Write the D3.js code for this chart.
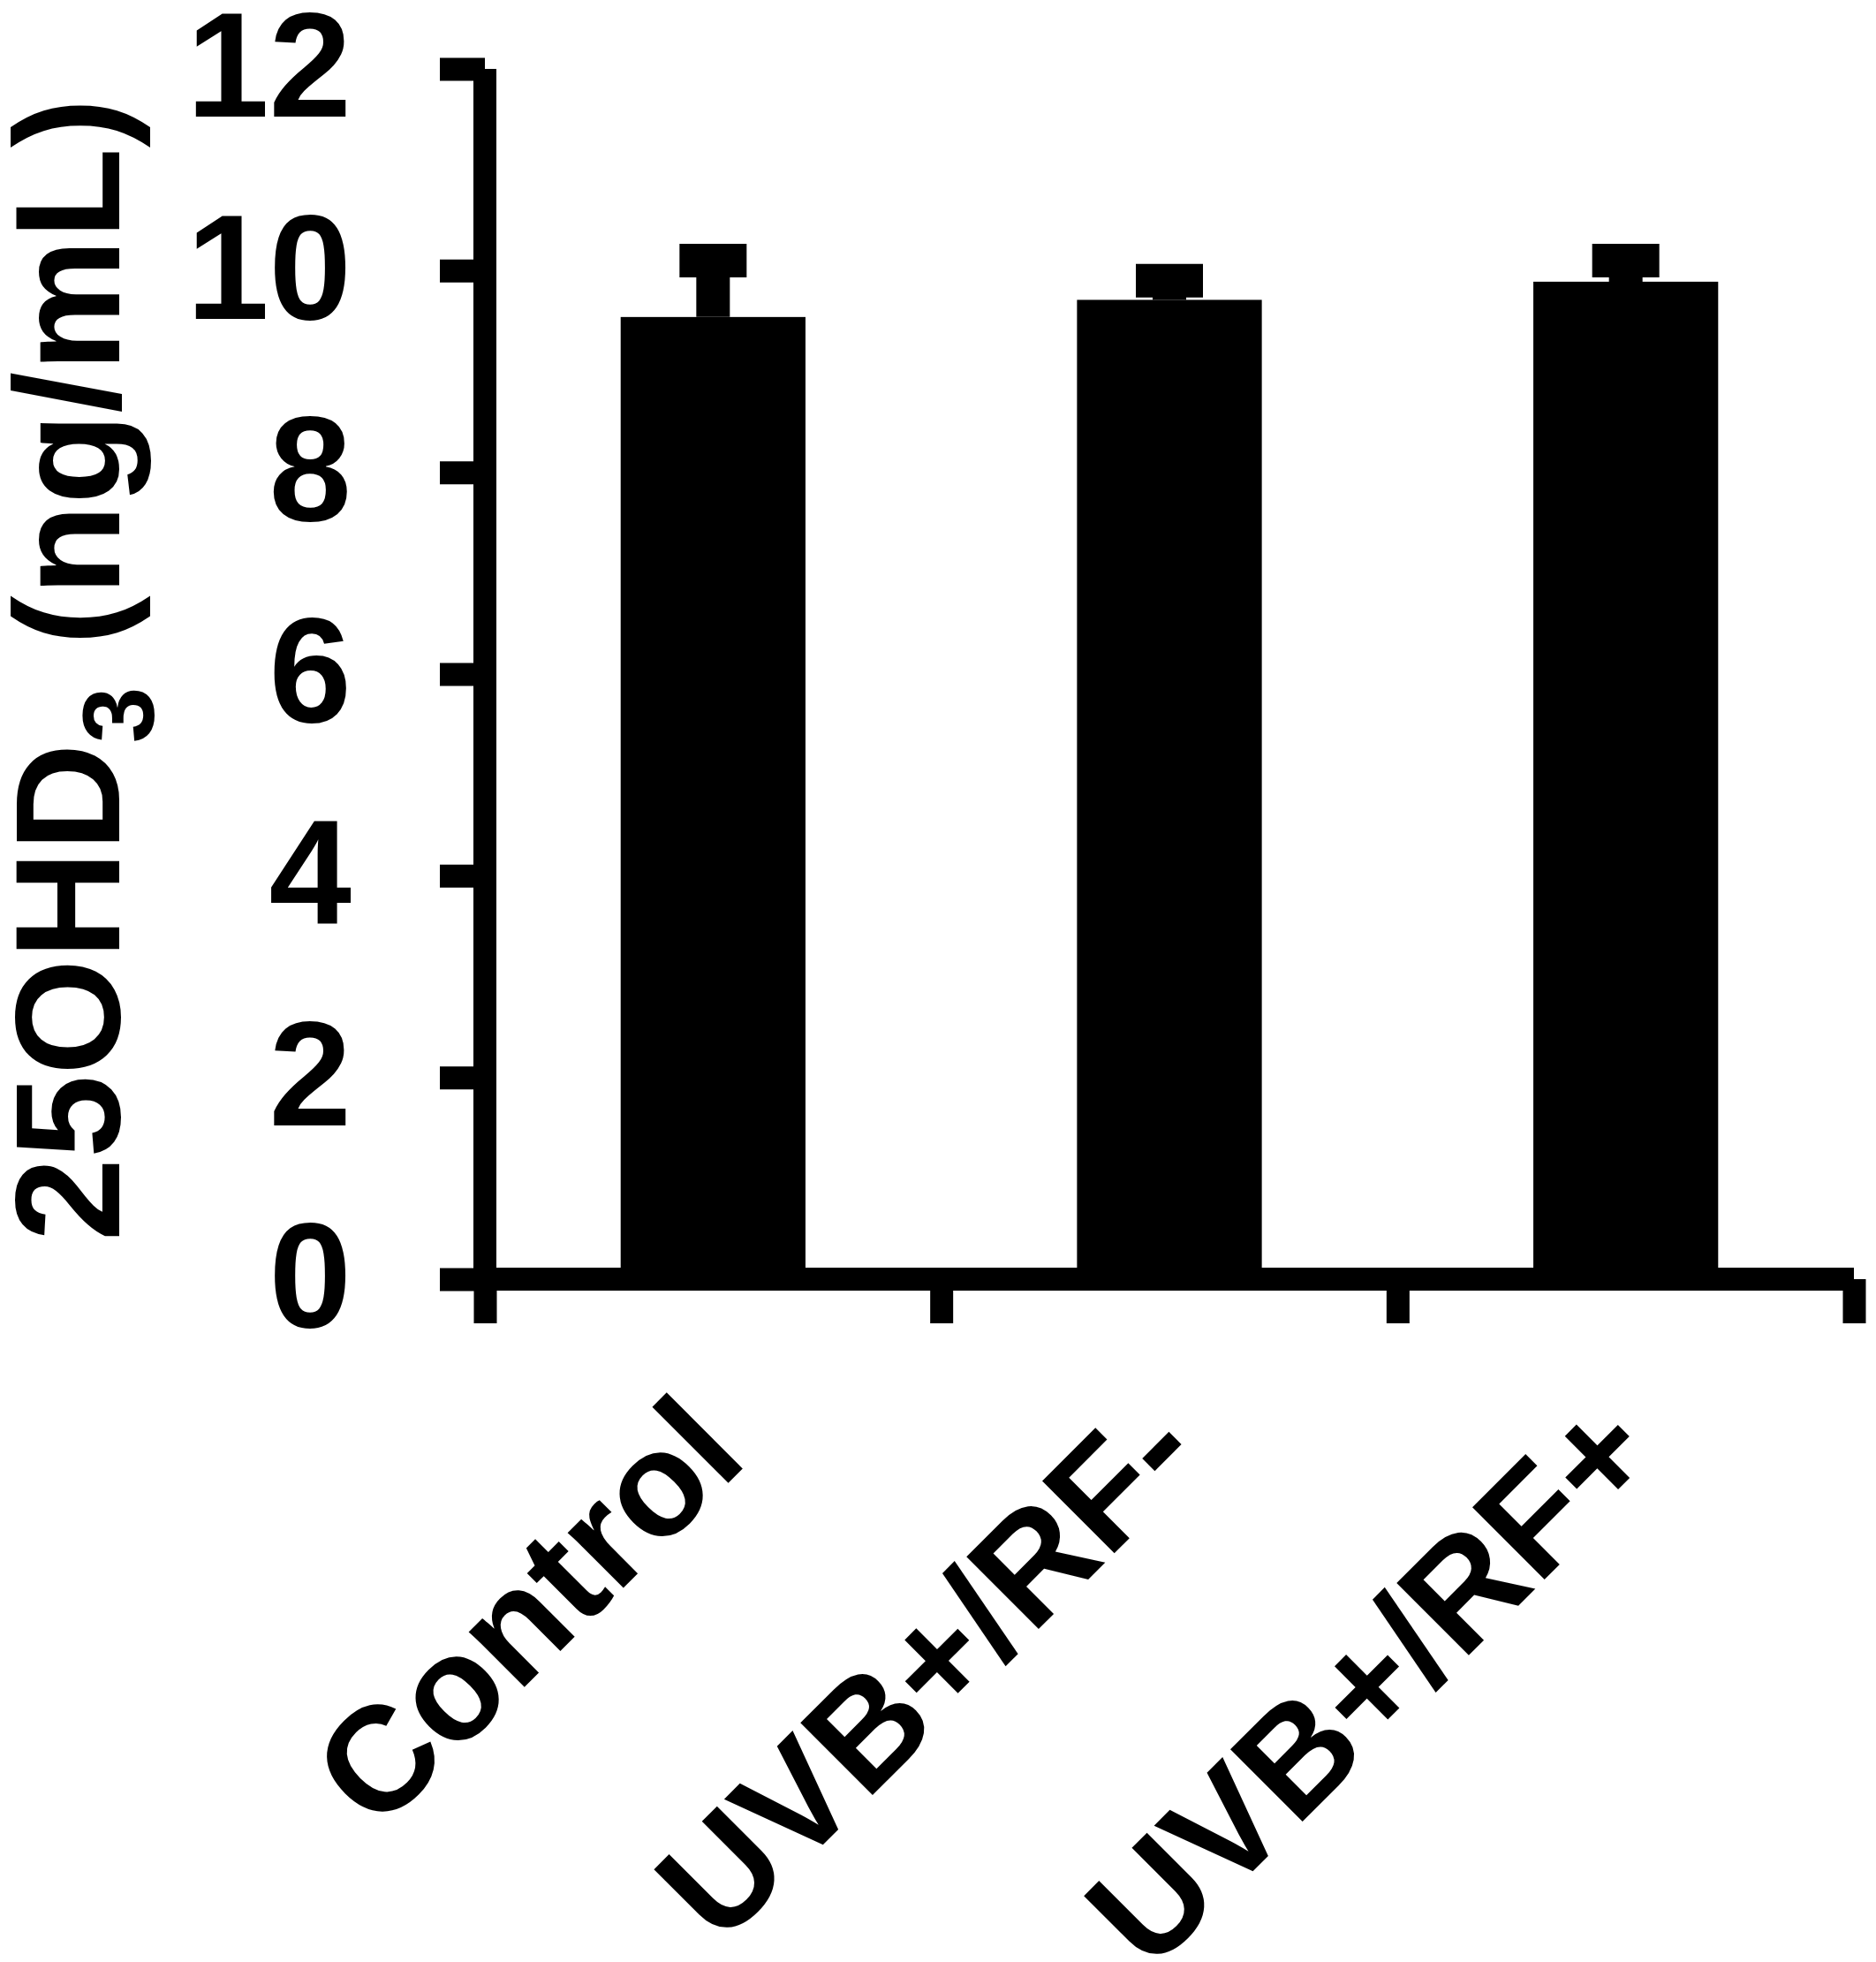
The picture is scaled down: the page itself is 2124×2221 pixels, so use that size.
<!DOCTYPE html>
<html>
<head>
<meta charset="utf-8">
<script src="https://cdn.jsdelivr.net/npm/d3@7"></script>
<style>
  body { margin: 0; background: #fff; }
  text { font-family: "Liberation Sans", Arial, sans-serif; font-weight: bold; fill: #000; }
</style>
</head>
<body>
<svg id="chart" width="2124" height="2221"></svg>
<script>
// values
const categories = ['Control', 'UVB+/RF-', 'UVB+/RF+'];
const means = [9.54, 9.71, 9.89];
const sems = [0.56, 0.19, 0.21];
const yTicks = [0, 2, 4, 6, 8, 10, 12];

const width = 2124;
const height = 2221;
const plot = { left: 549, right: 2099, top: 78, bottom: 1448 };
const lineW = 26;
const errW = 38;
const fontSize = 168;

const svg = d3.select('#chart');

svg.append('rect')
  .attr('width', width)
  .attr('height', height)
  .attr('fill', '#fff');

const y = d3.scaleLinear()
  .domain([0, 12])
  .range([plot.bottom, plot.top]);

const x = d3.scaleBand()
  .domain(categories)
  .range([plot.left, plot.right])
  .paddingInner(0.595)
  .paddingOuter(0.2975);

// category boundaries for the x ticks
const xEdge = d3.scaleLinear()
  .domain([0, categories.length])
  .range([plot.left, plot.right]);

// bars
svg.append('g')
  .selectAll('rect')
  .data(categories)
  .join('rect')
  .attr('x', d => x(d))
  .attr('y', (d, i) => y(means[i]))
  .attr('width', x.bandwidth())
  .attr('height', (d, i) => y(0) - y(means[i]))
  .attr('fill', '#000');

// error bars (upper only)
const err = svg.append('g')
  .attr('stroke', '#000')
  .attr('stroke-width', errW);

err.selectAll('line.stem')
  .data(categories)
  .join('line')
  .attr('class', 'stem')
  .attr('x1', d => x(d) + x.bandwidth() / 2)
  .attr('x2', d => x(d) + x.bandwidth() / 2)
  .attr('y1', (d, i) => y(means[i]))
  .attr('y2', (d, i) => y(means[i] + sems[i]));

err.selectAll('line.cap')
  .data(categories)
  .join('line')
  .attr('class', 'cap')
  .attr('x1', d => x(d) + x.bandwidth() / 2 - errW)
  .attr('x2', d => x(d) + x.bandwidth() / 2 + errW)
  .attr('y1', (d, i) => y(means[i] + sems[i]))
  .attr('y2', (d, i) => y(means[i] + sems[i]));

// y axis
svg.append('g')
  .attr('transform', `translate(${plot.left},0)`)
  .call(d3.axisLeft(y)
    .tickValues(yTicks)
    .tickSizeInner(51)
    .tickSizeOuter(0)
    .tickPadding(100))
  .call(g => g.select('.domain')
    .attr('d', `M0,${y.range()[0]}V${y.range()[1]}`))
  .call(g => g.selectAll('.domain, .tick line')
    .attr('stroke', '#000')
    .attr('stroke-width', lineW))
  .call(g => g.selectAll('.tick text')
    .attr('font-size', fontSize)
    .attr('font-family', null));

// x axis
svg.append('g')
  .attr('transform', `translate(0,${plot.bottom})`)
  .call(d3.axisBottom(xEdge)
    .tickValues(d3.range(categories.length + 1))
    .tickFormat('')
    .tickSizeInner(50)
    .tickSizeOuter(0))
  .call(g => g.select('.domain')
    .attr('d', `M${xEdge.range()[0]},0H${xEdge.range()[1]}`))
  .call(g => g.selectAll('.domain, .tick line')
    .attr('stroke', '#000')
    .attr('stroke-width', lineW));

// category labels, turned 45 degrees
svg.append('g')
  .selectAll('text')
  .data(categories)
  .join('text')
  .attr('text-anchor', 'end')
  .attr('font-size', fontSize)
  .attr('transform', d => `translate(${x(d) + x.bandwidth() / 2 + 42},1654) rotate(-45)`)
  .text(d => d);

// y axis title with subscript
const title = svg.append('text')
  .attr('text-anchor', 'middle')
  .attr('font-size', 169)
  .attr('transform', `translate(135,${(plot.top + plot.bottom) / 2 - 5}) rotate(-90)`);

title.append('tspan').text('25OHD');
title.append('tspan').attr('font-size', 115).attr('dy', 39).text('3');
title.append('tspan').attr('dy', -39).text(' (ng/mL)');
</script>
</body>
</html>
